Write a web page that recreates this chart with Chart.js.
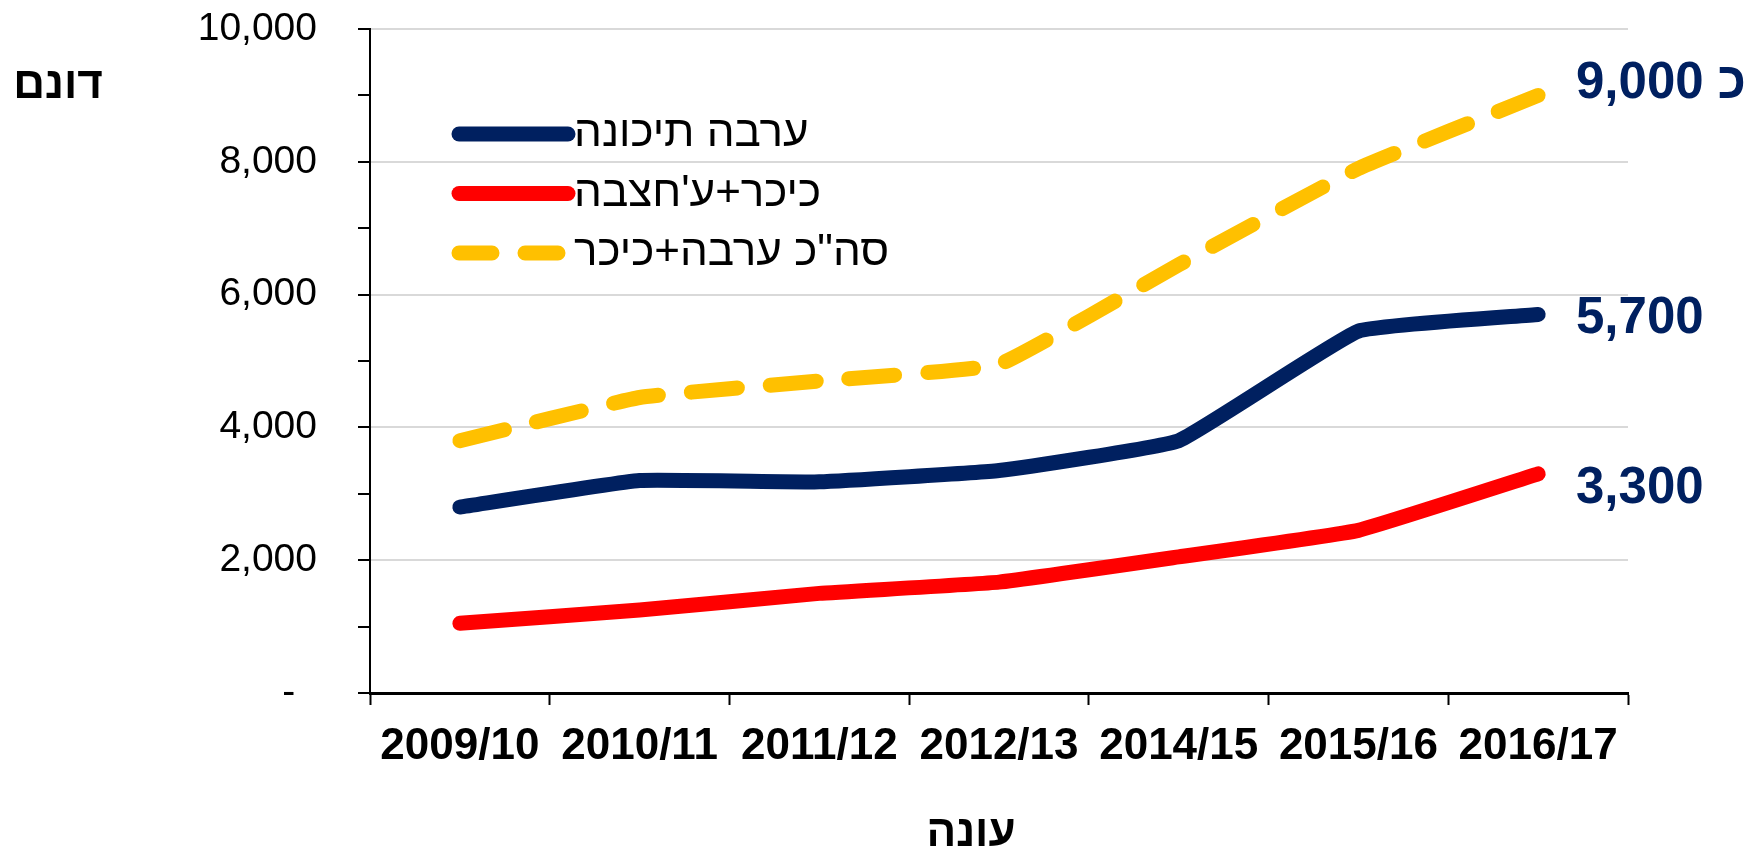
<!DOCTYPE html>
<html>
<head>
<meta charset="utf-8">
<script src="https://cdn.jsdelivr.net/npm/chart.js@4.4.1/dist/chart.umd.min.js"></script>
<style>
  html, body { margin: 0; padding: 0; background: #ffffff; }
  #wrap { width: 1760px; height: 857px; }
</style>
</head>
<body>
<div id="wrap"><canvas id="c" width="1760" height="857"></canvas></div>
<script>
// ---- data ----
const categories = ['2009/10', '2010/11', '2011/12', '2012/13', '2014/15', '2015/16', '2016/17'];
const aravaTichona = [2800, 3200, 3180, 3350, 3800, 5450, 5700];
const kikarHatzeva = [1050, 1250, 1500, 1670, 2050, 2450, 3300];
const totalAravaKikar = [3800, 4450, 4700, 4950, 6450, 7900, 9000];
const seriesLabels = ['ערבה תיכונה', "כיכר+ע'חצבה", 'סה"כ ערבה+כיכר'];
const yTickValues = [0, 2000, 4000, 6000, 8000, 10000];
const yTickLabels = ['-  ', '2,000', '4,000', '6,000', '8,000', '10,000'];
const endLabels = ['5,700', '3,300', 'כ 9,000'];
const yAxisTitle = 'דונם';
const xAxisTitle = 'עונה';

const FONT = '"Liberation Sans", Arial, sans-serif';
const NAVY = '#002060', RED = '#FF0000', GOLD = '#FFC000';

const extraText = {
  id: 'extraText',
  afterDraw(chart) {
    const ctx = chart.ctx;
    const y = chart.scales.y;
    ctx.save();
    // axis titles
    ctx.fillStyle = '#000';
    ctx.font = 'bold 44px ' + FONT;
    ctx.textAlign = 'center';
    ctx.textBaseline = 'alphabetic';
    ctx.direction = 'rtl';
    ctx.fillText(yAxisTitle, 58, 98);
    ctx.fillText(xAxisTitle, 971, 846);

    // end-of-line labels
    ctx.direction = 'ltr';
    ctx.textAlign = 'left';
    ctx.fillStyle = NAVY;
    ctx.font = 'bold 51px ' + FONT;
    const offs = [18.5, 29, 3];
    chart.data.datasets.forEach((ds, i) => {
      const last = ds.data[ds.data.length - 1];
      ctx.fillText(endLabels[i], 1576, y.getPixelForValue(last) + offs[i]);
    });

    // legend
    chart.data.datasets.forEach((ds, i) => {
      const ly = 134 + i * 59.5;
      ctx.save();
      ctx.strokeStyle = ds.borderColor;
      ctx.lineWidth = 15;
      ctx.lineCap = 'round';
      ctx.setLineDash(ds.borderDash && ds.borderDash.length ? [33, 33] : []);
      ctx.beginPath();
      ctx.moveTo(459, ly);
      ctx.lineTo(568, ly);
      ctx.stroke();
      ctx.restore();
      ctx.fillStyle = '#000';
      ctx.font = '44px ' + FONT;
      ctx.direction = 'rtl';
      ctx.textAlign = 'left';
      ctx.textBaseline = 'middle';
      ctx.fillText(ds.label, 574, ly);
    });
    ctx.restore();
  }
};

const common = {
  fill: false,
  borderWidth: 15,
  borderCapStyle: 'round',
  borderJoinStyle: 'round',
  pointRadius: 0,
  pointHoverRadius: 0,
  tension: 0.1
};

new Chart(document.getElementById('c'), {
  type: 'line',
  data: {
    labels: categories,
    datasets: [
      Object.assign({ label: seriesLabels[0], data: aravaTichona, borderColor: NAVY, backgroundColor: NAVY }, common),
      Object.assign({ label: seriesLabels[1], data: kikarHatzeva, borderColor: RED, backgroundColor: RED }, common),
      Object.assign({ label: seriesLabels[2], data: totalAravaKikar, borderColor: GOLD, backgroundColor: GOLD, borderDash: [46, 33] }, common)
    ]
  },
  options: {
    responsive: false,
    devicePixelRatio: 1,
    animation: false,
    layout: { padding: { left: 0, top: 29, right: 132, bottom: 0 } },
    plugins: {
      legend: { display: false },
      tooltip: { enabled: false },
      title: { display: false }
    },
    scales: {
      x: {
        type: 'category',
        offset: true,
        grid: {
          display: true,
          offset: true,
          drawOnChartArea: false,
          drawTicks: true,
          tickLength: 12,
          tickColor: '#000',
          tickWidth: 2
        },
        border: { display: true, color: '#000', width: 3 },
        ticks: {
          color: '#000',
          font: { family: FONT, size: 44, weight: 'bold', lineHeight: 1.2 },
          padding: 15,
          maxRotation: 0,
          minRotation: 0,
          autoSkip: false
        },
        afterFit(scale) { scale.height = 164; scale.paddingLeft = 0; scale.paddingRight = 0; }
      },
      y: {
        type: 'linear',
        min: 0,
        max: 10000,
        grid: {
          display: true,
          drawOnChartArea: true,
          drawTicks: true,
          tickLength: 12,
          tickColor: '#000',
          tickWidth: 2,
          lineWidth: 2,
          color(ctx) {
            const v = ctx.tick ? ctx.tick.value : 0;
            if (v === 0) return 'rgba(0,0,0,0)';
            return yTickValues.includes(v) ? '#D9D9D9' : 'rgba(0,0,0,0)';
          }
        },
        border: { display: true, color: '#000', width: 2 },
        ticks: {
          stepSize: 1000,
          autoSkip: false,
          color: '#000',
          padding: 41,
          font: { family: FONT, size: 39, lineHeight: 1.2 },
          callback(value) {
            const i = yTickValues.indexOf(value);
            return i >= 0 ? yTickLabels[i] : '';
          }
        },
        afterFit(scale) { scale.width = 370; scale.paddingTop = 0; scale.paddingBottom = 0; }
      }
    }
  },
  plugins: [extraText]
});
</script>
</body>
</html>
